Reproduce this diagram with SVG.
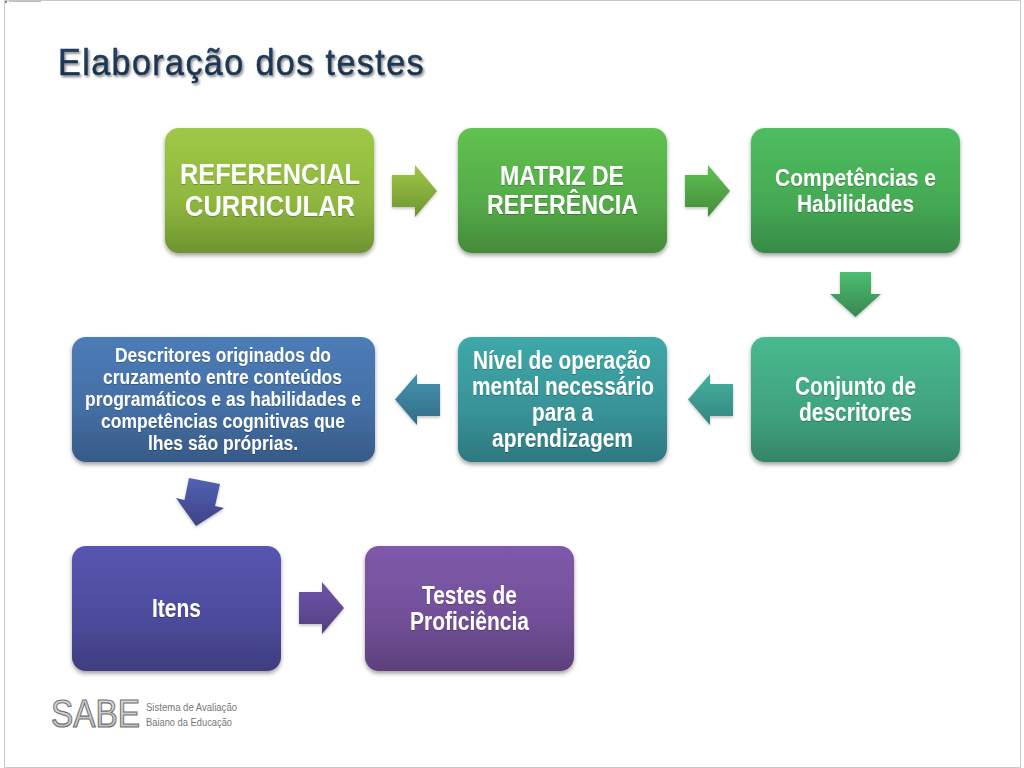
<svg xmlns="http://www.w3.org/2000/svg" width="1024" height="768" viewBox="0 0 1024 768">
<style>
.box{filter:url(#sh)}
.arr{filter:url(#sha)}
.t{font-family:"Liberation Sans",Arial,sans-serif;font-weight:700;fill:#fff;filter:url(#ts)}
.s29{font-size:29px}.s27{font-size:27px}.s25{font-size:25px}.s24{font-size:24px}.s20{font-size:20px}
.title{font-family:"Liberation Sans",Arial,sans-serif;font-size:37px;fill:url(#gt);stroke:#1c3553;stroke-width:.5;filter:url(#tt)}
.logo{font-family:"Liberation Sans",Arial,sans-serif;font-size:38px;fill:url(#gl);stroke:#6e6e6e;stroke-width:1.100}
.sub{font-family:"Liberation Sans",Arial,sans-serif;font-size:10.5px;fill:#777}
</style>
<defs>
<filter id="sh" x="-10%" y="-10%" width="120%" height="125%"><feDropShadow dx="0" dy="2.5" stdDeviation="2.2" flood-color="#000" flood-opacity=".38"/></filter>
<filter id="sha" x="-20%" y="-20%" width="140%" height="140%"><feDropShadow dx="0" dy="1.5" stdDeviation="1.5" flood-color="#000" flood-opacity=".25"/></filter>
<filter id="ts" x="-5%" y="-10%" width="110%" height="125%"><feDropShadow dx="0" dy="1" stdDeviation=".5" flood-color="#000" flood-opacity=".25"/></filter>
<filter id="tt" x="-5%" y="-10%" width="110%" height="130%"><feDropShadow dx="1.5" dy="2" stdDeviation="1.2" flood-color="#000" flood-opacity=".45"/></filter>
<linearGradient id="gt" x1="0" y1="0" x2="0" y2="1"><stop offset="0" stop-color="#294464"/><stop offset="1" stop-color="#142b47"/></linearGradient>
<linearGradient id="gl" x1="0" y1="0" x2="0" y2="1"><stop offset="0" stop-color="#e4e4e4"/><stop offset="1" stop-color="#b8b8b8"/></linearGradient>
<linearGradient id="g1" x1="0" y1="0" x2="0" y2="1"><stop offset="0" stop-color="#9fc846"/><stop offset=".6" stop-color="#8fb63e"/><stop offset="1" stop-color="#6e9431"/></linearGradient>
<linearGradient id="g2" x1="0" y1="0" x2="0" y2="1"><stop offset="0" stop-color="#60c250"/><stop offset=".6" stop-color="#54ab47"/><stop offset="1" stop-color="#468a39"/></linearGradient>
<linearGradient id="g3" x1="0" y1="0" x2="0" y2="1"><stop offset="0" stop-color="#4fbe60"/><stop offset=".6" stop-color="#45a954"/><stop offset="1" stop-color="#388a45"/></linearGradient>
<linearGradient id="g4" x1="0" y1="0" x2="0" y2="1"><stop offset="0" stop-color="#48b98e"/><stop offset=".6" stop-color="#40a47e"/><stop offset="1" stop-color="#348566"/></linearGradient>
<linearGradient id="g5" x1="0" y1="0" x2="0" y2="1"><stop offset="0" stop-color="#3fa8a8"/><stop offset=".6" stop-color="#379297"/><stop offset="1" stop-color="#2e7880"/></linearGradient>
<linearGradient id="g6" x1="0" y1="0" x2="0" y2="1"><stop offset="0" stop-color="#4c7cb8"/><stop offset=".6" stop-color="#436ea3"/><stop offset="1" stop-color="#375a87"/></linearGradient>
<linearGradient id="g7" x1="0" y1="0" x2="0" y2="1"><stop offset="0" stop-color="#5655b0"/><stop offset=".6" stop-color="#4c4b9b"/><stop offset="1" stop-color="#3e3d7f"/></linearGradient>
<linearGradient id="g8" x1="0" y1="0" x2="0" y2="1"><stop offset="0" stop-color="#7f59aa"/><stop offset=".6" stop-color="#714f97"/><stop offset="1" stop-color="#5c407b"/></linearGradient>
<linearGradient id="a1" x1="0" y1="0" x2="0" y2="1"><stop offset="0" stop-color="#9fc846"/><stop offset="1" stop-color="#6e9431"/></linearGradient>
<linearGradient id="a2" x1="0" y1="0" x2="0" y2="1"><stop offset="0" stop-color="#5ec152"/><stop offset="1" stop-color="#458b3a"/></linearGradient>
<linearGradient id="a3" x1="0" y1="0" x2="0" y2="1"><stop offset="0" stop-color="#4dbd72"/><stop offset="1" stop-color="#37884f"/></linearGradient>
<linearGradient id="a4" x1="0" y1="0" x2="0" y2="1"><stop offset="0" stop-color="#44b39b"/><stop offset="1" stop-color="#348481"/></linearGradient>
<linearGradient id="a5" x1="0" y1="0" x2="0" y2="1"><stop offset="0" stop-color="#4593b0"/><stop offset="1" stop-color="#336c85"/></linearGradient>
<linearGradient id="a6" x1="0" y1="0" x2="0" y2="1"><stop offset="0" stop-color="#5162b4"/><stop offset="1" stop-color="#3e4285"/></linearGradient>
<linearGradient id="a7" x1="0" y1="0" x2="0" y2="1"><stop offset="0" stop-color="#6f55ac"/><stop offset="1" stop-color="#533f80"/></linearGradient>
</defs>

<rect width="1024" height="768" fill="#fff"/>
<path d="M4.500 18V.5H1020.500V767.500H4.500V18" fill="none" stroke="#c8c8c8"/>
<rect x="9" y="1" width="32" height="1" fill="#bbb"/>
<rect x="5" y="1" width="2" height="2" fill="#888"/>

<text id="title" class="title" x="58" y="75" textLength="367" lengthAdjust="spacingAndGlyphs" letter-spacing="1.500">Elaboração dos testes</text>

<g id="connectors">
<polygon class="arr" fill="url(#a1)" points="392,175 415,175 415,165 437,191 415,217 415,207 392,207"/>
<polygon class="arr" fill="url(#a2)" points="685,175 708,175 708,165 730,191 708,217 708,207 685,207"/>
<polygon class="arr" fill="url(#a3)" points="840,272 871,272 871,294 881,294 855.500,317 830,294 840,294"/>
<polygon class="arr" fill="url(#a4)" points="733,384 710,384 710,374 688,399.500 710,425 710,416 733,416"/>
<polygon class="arr" fill="url(#a5)" points="440,384 417,384 417,374 395,399.500 417,425 417,416 440,416"/>
<polygon class="arr" fill="url(#a6)" points="189,478 220,484 215,506 224,508 196,526 176,498 184.500,500"/>
<polygon class="arr" fill="url(#a7)" points="299,592 322,592 322,582 344,608 322,634 322,624 299,624"/>
</g>

<g id="n1"><rect class="box" x="165" y="128" width="209" height="125" rx="14" fill="url(#g1)"/>
<text class="t s29" x="180" y="184" textLength="180" lengthAdjust="spacingAndGlyphs">REFERENCIAL</text>
<text class="t s29" x="185" y="216" textLength="170" lengthAdjust="spacingAndGlyphs">CURRICULAR</text></g>

<g id="n2"><rect class="box" x="458" y="128" width="209" height="125" rx="14" fill="url(#g2)"/>
<text class="t s27" x="500" y="185" textLength="124" lengthAdjust="spacingAndGlyphs">MATRIZ DE</text>
<text class="t s27" x="487" y="214" textLength="151" lengthAdjust="spacingAndGlyphs">REFERÊNCIA</text></g>

<g id="n3"><rect class="box" x="751" y="128" width="209" height="125" rx="14" fill="url(#g3)"/>
<text class="t s24" x="775" y="186" textLength="161" lengthAdjust="spacingAndGlyphs">Competências e</text>
<text class="t s24" x="797" y="212" textLength="117" lengthAdjust="spacingAndGlyphs">Habilidades</text></g>

<g id="n4"><rect class="box" x="751" y="337" width="209" height="125" rx="14" fill="url(#g4)"/>
<text class="t s25" x="795" y="395" textLength="121" lengthAdjust="spacingAndGlyphs">Conjunto de</text>
<text class="t s25" x="799" y="421" textLength="113" lengthAdjust="spacingAndGlyphs">descritores</text></g>

<g id="n5"><rect class="box" x="458" y="337" width="209" height="125" rx="14" fill="url(#g5)"/>
<text class="t s25" x="473" y="369" textLength="178" lengthAdjust="spacingAndGlyphs">Nível de operação</text>
<text class="t s25" x="472" y="395" textLength="182" lengthAdjust="spacingAndGlyphs">mental necessário</text>
<text class="t s25" x="532" y="421" textLength="61" lengthAdjust="spacingAndGlyphs">para a</text>
<text class="t s25" x="492" y="447" textLength="141" lengthAdjust="spacingAndGlyphs">aprendizagem</text></g>

<g id="n6"><rect class="box" x="72" y="337" width="303" height="125" rx="14" fill="url(#g6)"/>
<text class="t s20" x="115" y="362" textLength="216" lengthAdjust="spacingAndGlyphs">Descritores originados do</text>
<text class="t s20" x="103" y="384" textLength="239" lengthAdjust="spacingAndGlyphs">cruzamento entre conteúdos</text>
<text class="t s20" x="85" y="406" textLength="276" lengthAdjust="spacingAndGlyphs">programáticos e as habilidades e</text>
<text class="t s20" x="101" y="428" textLength="244" lengthAdjust="spacingAndGlyphs">competências cognitivas que</text>
<text class="t s20" x="148" y="450" textLength="150" lengthAdjust="spacingAndGlyphs">lhes são próprias.</text></g>

<g id="n7"><rect class="box" x="72" y="546" width="209" height="125" rx="14" fill="url(#g7)"/>
<text class="t s25" x="152" y="617" textLength="49" lengthAdjust="spacingAndGlyphs">Itens</text></g>

<g id="n8"><rect class="box" x="365" y="546" width="209" height="125" rx="14" fill="url(#g8)"/>
<text class="t s25" x="422" y="604" textLength="95" lengthAdjust="spacingAndGlyphs">Testes de</text>
<text class="t s25" x="410" y="630" textLength="119" lengthAdjust="spacingAndGlyphs">Proficiência</text></g>

<g id="logo">
<text class="logo" x="51" y="727" textLength="89" lengthAdjust="spacingAndGlyphs">SABE</text>
<text class="sub" x="146" y="711" textLength="91" lengthAdjust="spacingAndGlyphs">Sistema de Avaliação</text>
<text class="sub" x="146" y="726" textLength="86" lengthAdjust="spacingAndGlyphs">Baiano da Educação</text>
</g>
</svg>
